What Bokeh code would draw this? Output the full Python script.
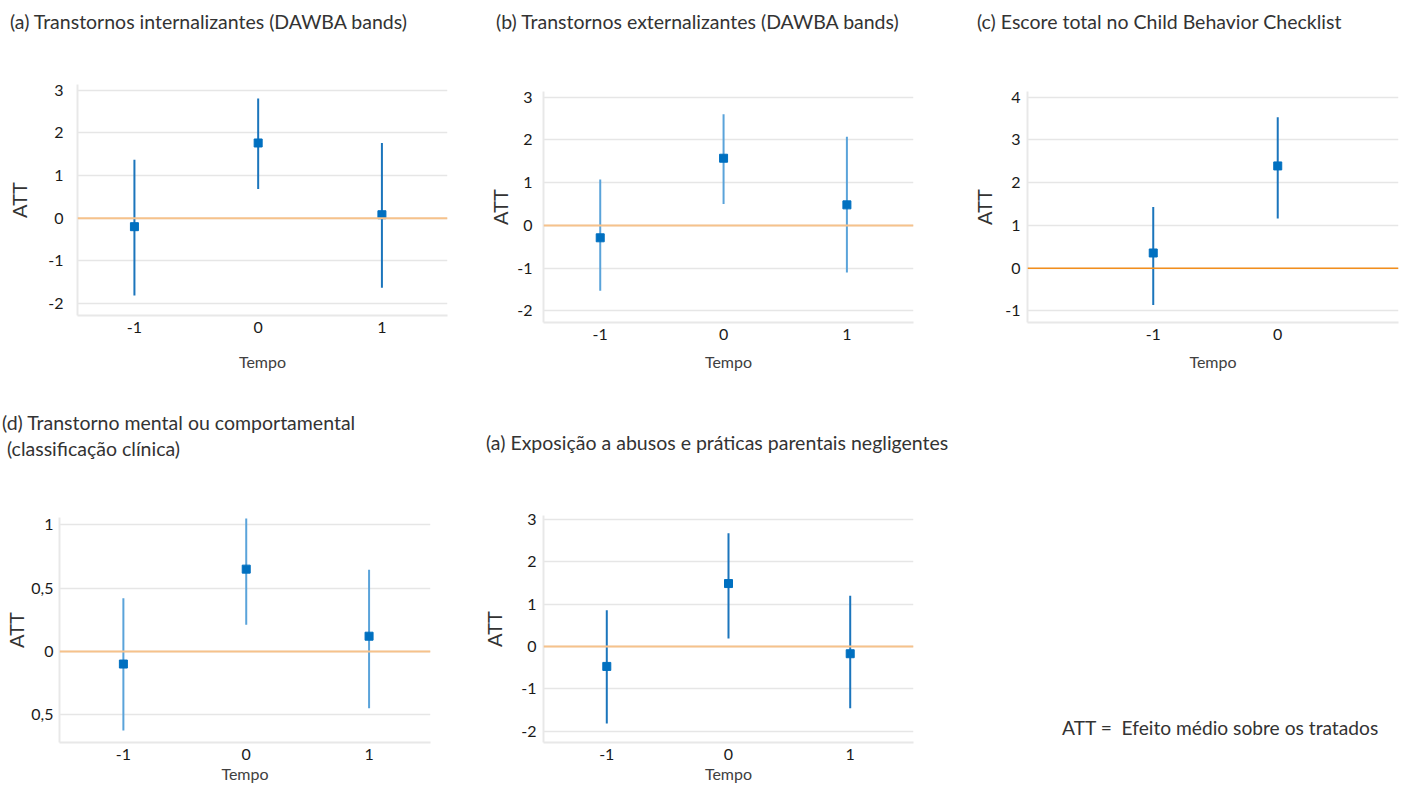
from bokeh.plotting import figure
from bokeh.layouts import row, column
from bokeh.models import Range1d, FixedTicker, Span, Div, ColumnDataSource
from bokeh.embed import file_html
from bokeh.resources import INLINE

FONT = "Lato"

# ---------------- data ----------------
tempo_3 = [-1, 0, 1]
tempo_2 = [-1, 0]
x_tick_labels = ["-1", "0", "1"]

a_title = "(a) Transtornos internalizantes (DAWBA bands)"
a_att = [-0.20, 1.76, 0.08]
a_lo = [-1.81, 0.68, -1.63]
a_hi = [1.37, 2.80, 1.76]

b_title = "(b) Transtornos externalizantes (DAWBA bands)"
b_att = [-0.29, 1.57, 0.48]
b_lo = [-1.53, 0.50, -1.10]
b_hi = [1.07, 2.60, 2.07]

c_title = "(c) Escore total no Child Behavior Checklist"
c_att = [0.355, 2.39]
c_lo = [-0.86, 1.16]
c_hi = [1.43, 3.53]

d_title = "(d) Transtorno mental ou comportamental\n (classificação clínica)"
d_att = [-0.10, 0.65, 0.12]
d_lo = [-0.625, 0.21, -0.45]
d_hi = [0.42, 1.05, 0.646]

e_title = "(a) Exposição a abusos e práticas parentais negligentes"
e_att = [-0.47, 1.49, -0.17]
e_lo = [-1.82, 0.19, -1.46]
e_hi = [0.86, 2.68, 1.20]

y_ticks_int = [-2, -1, 0, 1, 2, 3]
y_labels_int = ["-2", "-1", "0", "1", "2", "3"]
c_y_ticks = [-1, 0, 1, 2, 3, 4]
c_y_labels = ["-1", "0", "1", "2", "3", "4"]
d_y_ticks = [-0.5, 0, 0.5, 1]
d_y_labels = ["0,5", "0", "0,5", "1"]

y_axis_label = "ATT"
x_axis_label = "Tempo"
note_text = "ATT =  Efeito médio sobre os tratados"


def text_div(text, w, h, left, top, line_h, size="19.5px"):
    html = ('<div style="margin-left:%dpx; margin-top:%dpx; font-family:Lato; '
            'font-size:%s; line-height:%dpx; color:#333333; '
            'white-space:pre;">%s</div>' % (left, top, size, line_h, text))
    return Div(text=html, width=w, height=h, margin=0)


def panel(xs, att, lo, hi, yticks, ylabels, xr, yr, w, h,
          mb_left, mb_right, mb_top, mb_bottom,
          ytick_standoff, ylabel_standoff, xtick_standoff, xlabel_standoff,
          bar_color, zero_color, zero_width):
    p = figure(width=w, height=h, x_range=Range1d(*xr), y_range=Range1d(*yr),
               output_backend="svg", toolbar_location=None,
               min_border_left=mb_left, min_border_right=mb_right,
               min_border_top=mb_top, min_border_bottom=mb_bottom,
               background_fill_color="white", border_fill_color="white")
    p.outline_line_color = None

    src = ColumnDataSource(dict(x=xs, y=att, lo=lo, hi=hi))
    p.add_layout(Span(location=0, dimension="width", line_color=zero_color,
                      line_width=zero_width))
    p.segment(x0="x", y0="lo", x1="x", y1="hi", source=src,
              line_color=bar_color, line_width=2)
    p.scatter(x="x", y="y", source=src, marker="square", size=8,
              fill_color="#0070c0", line_color="#0070c0")

    p.xgrid.visible = False
    p.ygrid.ticker = FixedTicker(ticks=yticks)
    p.ygrid.grid_line_color = "#e6e6e6"
    p.ygrid.grid_line_width = 1.5

    for ax in (p.xaxis[0], p.yaxis[0]):
        ax.axis_line_color = "#e8e8e8"
        ax.axis_line_width = 2
        ax.major_tick_line_color = None
        ax.minor_tick_line_color = None
        ax.major_label_text_font = FONT
        ax.major_label_text_font_size = "16px"
        ax.major_label_text_color = "#1a1a1a"
        ax.axis_label_text_font = FONT
        ax.axis_label_text_font_style = "normal"

    p.xaxis.ticker = FixedTicker(ticks=xs)
    p.xaxis.major_label_overrides = {t: l for t, l in zip(tempo_3, x_tick_labels)}
    p.xaxis.axis_label = x_axis_label
    p.xaxis.axis_label_text_font_size = "16px"
    p.xaxis.axis_label_text_color = "#404040"
    p.xaxis.major_label_standoff = xtick_standoff
    p.xaxis.axis_label_standoff = xlabel_standoff

    p.yaxis.ticker = FixedTicker(ticks=yticks)
    p.yaxis.major_label_overrides = {t: l for t, l in zip(yticks, ylabels)}
    p.yaxis.axis_label = y_axis_label
    p.yaxis.axis_label_text_font_size = "20px"
    p.yaxis.axis_label_text_color = "#333333"
    p.yaxis.major_label_standoff = ytick_standoff
    p.yaxis.axis_label_standoff = ylabel_standoff
    return p


BAR_DARK = "#1b75bc"
BAR_LIGHT = "#5aa3da"
ZERO_LIGHT = "#f6c28b"
ZERO_DARK = "#f28e1c"

pa = panel(tempo_3, a_att, a_lo, a_hi, y_ticks_int, y_labels_int,
           (-1.46, 1.53), (-2.28, 3.13), 470, 330,
           77, 23, 24, 75, 8, 14, 0, 16, BAR_DARK, ZERO_LIGHT, 2)
pb = panel(tempo_3, b_att, b_lo, b_hi, y_ticks_int, y_labels_int,
           (-1.46, 1.54), (-2.27, 3.13), 480, 330,
           73, 37, 31, 68, 5, 2, 0, 9, BAR_LIGHT, ZERO_LIGHT, 2)
pc = panel(tempo_2, c_att, c_lo, c_hi, c_y_ticks, c_y_labels,
           (-2.01, 0.97), (-1.27, 4.13), 457, 330,
           77, 9, 31, 68, 1, 6, 0, 9, BAR_DARK, ZERO_DARK, 1.5)
pd = panel(tempo_3, d_att, d_lo, d_hi, d_y_ticks, d_y_labels,
           (-1.52, 1.50), (-0.72, 1.058), 470, 305,
           59, 40, 37, 40, 0, 0, 0, 1, BAR_LIGHT, ZERO_LIGHT, 2)
pe = panel(tempo_3, e_att, e_lo, e_hi, y_ticks_int, y_labels_int,
           (-1.52, 1.52), (-2.27, 3.10), 480, 305,
           73, 37, 35, 40, 1, 12, 0, 1, BAR_DARK, ZERO_LIGHT, 2)

ta = text_div(a_title, 470, 60, 10, 10, 24)
tb = text_div(b_title, 480, 60, 26, 10, 24)
tc = text_div(c_title, 457, 60, 27, 10, 24)
td = text_div(d_title, 470, 90, 2, 20, 26)
te = text_div(e_title, 480, 90, 16, 41, 24)
note = text_div(note_text, 457, 395, 112, 326, 24, size="19.2px")

layout = column(
    row(column(ta, pa), column(tb, pb), column(tc, pc)),
    row(column(td, pd), column(te, pe), note),
)

with open("out.html", "w") as f:
    f.write(file_html(layout, INLINE))
